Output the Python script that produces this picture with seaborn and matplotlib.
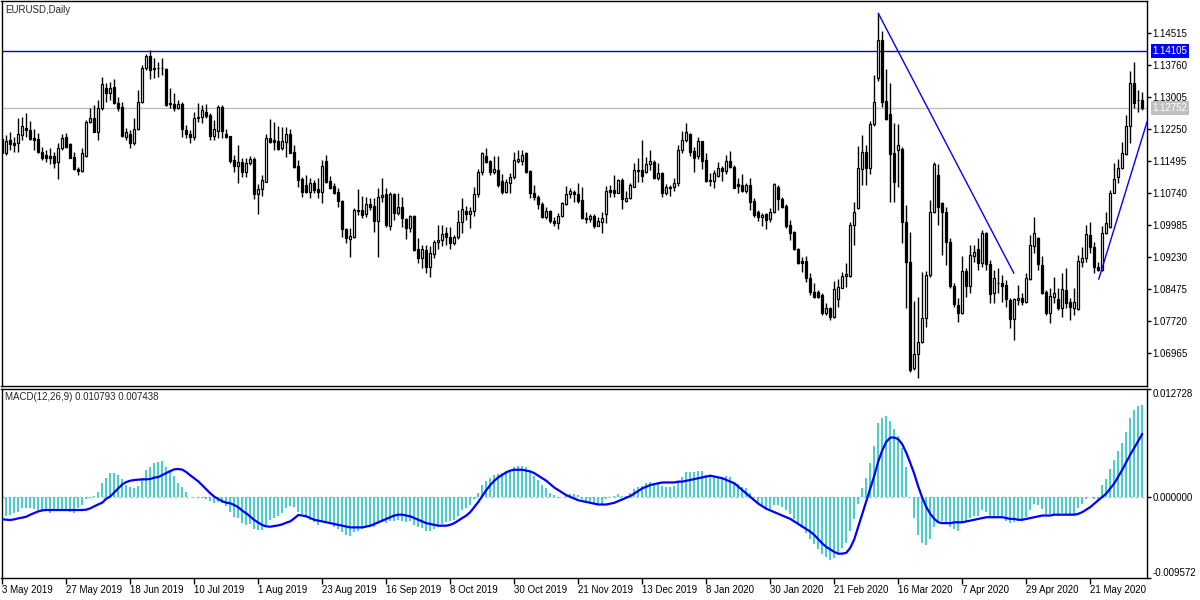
import numpy as np
import matplotlib
matplotlib.use("Agg")
import matplotlib.pyplot as plt
import seaborn as sns

# EURUSD daily bars, 3 May 2019 .. early June 2020
DATE_LABELS = ["3 May 2019", "27 May 2019", "18 Jun 2019", "10 Jul 2019", "1 Aug 2019",
               "23 Aug 2019", "16 Sep 2019", "8 Oct 2019", "30 Oct 2019", "21 Nov 2019",
               "13 Dec 2019", "8 Jan 2020", "30 Jan 2020", "21 Feb 2020", "16 Mar 2020",
               "7 Apr 2020", "29 Apr 2020", "21 May 2020"]
LABEL_STEP = 16

OPEN = [
    1.1202, 1.1169, 1.1200, 1.1192, 1.1192, 1.1211, 1.1228, 1.1223, 1.1204, 1.1202,
    1.1171, 1.1164, 1.1162, 1.1162, 1.1148, 1.1181, 1.1207, 1.1190, 1.1159, 1.1131,
    1.1126, 1.1162, 1.1242, 1.1251, 1.1218, 1.1275, 1.1322, 1.1311, 1.1325, 1.1287,
    1.1277, 1.1207, 1.1214, 1.1192, 1.1226, 1.1289, 1.1370, 1.1398, 1.1370, 1.1370,
    1.1370, 1.1367, 1.1287, 1.1285, 1.1275, 1.1285, 1.1223, 1.1214, 1.1207, 1.1251,
    1.1254, 1.1266, 1.1259, 1.1209, 1.1221, 1.1277, 1.1214, 1.1209, 1.1152, 1.1138,
    1.1148, 1.1124, 1.1145, 1.1155, 1.1072, 1.1084, 1.1100, 1.1204, 1.1200, 1.1197,
    1.1181, 1.1195, 1.1214, 1.1171, 1.1138, 1.1108, 1.1093, 1.1077, 1.1098, 1.1084,
    1.1077, 1.1150, 1.1103, 1.1091, 1.1077, 1.1056, 1.0990, 1.0966, 1.0971, 1.1034,
    1.1034, 1.1025, 1.1049, 1.1044, 1.1008, 1.1065, 1.1072, 1.0997, 1.1072, 1.1027,
    1.1041, 1.1013, 1.0992, 1.1020, 1.0942, 1.0921, 1.0940, 1.0900, 1.0931, 1.0959,
    1.0964, 1.0980, 1.0971, 1.0957, 1.0971, 1.1006, 1.1032, 1.1025, 1.1032, 1.1072,
    1.1124, 1.1162, 1.1150, 1.1124, 1.1129, 1.1103, 1.1077, 1.1098, 1.1112, 1.1150,
    1.1150, 1.1169, 1.1126, 1.1074, 1.1065, 1.1049, 1.1018, 1.1032, 1.1008, 1.1004,
    1.1020, 1.1049, 1.1072, 1.1077, 1.1072, 1.1058, 1.1016, 1.1013, 1.1020, 1.0997,
    1.1006, 1.1025, 1.1082, 1.1082, 1.1074, 1.1105, 1.1056, 1.1063, 1.1089, 1.1126,
    1.1129, 1.1124, 1.1143, 1.1148, 1.1110, 1.1122, 1.1074, 1.1086, 1.1089, 1.1098,
    1.1176, 1.1200, 1.1214, 1.1174, 1.1162, 1.1197, 1.1152, 1.1105, 1.1103, 1.1115,
    1.1133, 1.1126, 1.1150, 1.1136, 1.1096, 1.1093, 1.1079, 1.1093, 1.1056, 1.1030,
    1.1018, 1.1025, 1.1013, 1.1030, 1.1089, 1.1060, 1.1044, 1.0999, 1.0983, 1.0942,
    1.0914, 1.0914, 1.0874, 1.0841, 1.0841, 1.0834, 1.0791, 1.0803, 1.0782, 1.0824,
    1.0850, 1.0879, 1.0879, 1.0999, 1.1039, 1.1131, 1.1171, 1.1133, 1.1237, 1.1346,
    1.1436, 1.1292, 1.1261, 1.1169, 1.1176, 1.1178, 1.1006, 1.0912, 1.0662, 1.0695,
    1.0723, 1.0780, 1.0881, 1.1030, 1.1117, 1.1051, 1.1030, 1.0959, 1.0855, 1.0810,
    1.0791, 1.0890, 1.0855, 1.0926, 1.0942, 1.0909, 1.0980, 1.0907, 1.0838, 1.0862,
    1.0862, 1.0857, 1.0822, 1.0777, 1.0822, 1.0827, 1.0817, 1.0872, 1.0949, 1.0968,
    1.0905, 1.0841, 1.0791, 1.0829, 1.0824, 1.0803, 1.0846, 1.0817, 1.0803, 1.0801,
    1.0912, 1.0921, 1.0975, 1.0947, 1.0900, 1.0893, 1.0980, 1.0994, 1.1074, 1.1112,
    1.1133, 1.1167, 1.1233, 1.1334, 1.1294, 1.1294]

HIGH = [
    1.1204, 1.1211, 1.1218, 1.1207, 1.1251, 1.1254, 1.1263, 1.1244, 1.1226, 1.1216,
    1.1183, 1.1176, 1.1181, 1.1171, 1.1192, 1.1214, 1.1216, 1.1192, 1.1171, 1.1136,
    1.1181, 1.1247, 1.1275, 1.1282, 1.1294, 1.1348, 1.1334, 1.1337, 1.1344, 1.1301,
    1.1289, 1.1228, 1.1223, 1.1251, 1.1318, 1.1377, 1.1403, 1.1412, 1.1393, 1.1384,
    1.1393, 1.1370, 1.1322, 1.1311, 1.1294, 1.1289, 1.1235, 1.1223, 1.1266, 1.1287,
    1.1282, 1.1285, 1.1263, 1.1247, 1.1282, 1.1282, 1.1226, 1.1209, 1.1164, 1.1188,
    1.1157, 1.1157, 1.1162, 1.1159, 1.1096, 1.1117, 1.1214, 1.1249, 1.1242, 1.1233,
    1.1230, 1.1230, 1.1226, 1.1188, 1.1152, 1.1112, 1.1117, 1.1110, 1.1105, 1.1110,
    1.1152, 1.1164, 1.1115, 1.1098, 1.1086, 1.1058, 1.0992, 1.0992, 1.1039, 1.1084,
    1.1067, 1.1065, 1.1063, 1.1063, 1.1086, 1.1110, 1.1086, 1.1077, 1.1074, 1.1074,
    1.1065, 1.1016, 1.1023, 1.1023, 1.0968, 1.0952, 1.0952, 1.0949, 1.0964, 1.0999,
    1.0999, 1.0994, 1.0994, 1.0975, 1.1034, 1.1063, 1.1044, 1.1041, 1.1089, 1.1131,
    1.1171, 1.1181, 1.1152, 1.1162, 1.1162, 1.1119, 1.1108, 1.1122, 1.1171, 1.1176,
    1.1176, 1.1171, 1.1129, 1.1093, 1.1070, 1.1053, 1.1041, 1.1034, 1.1018, 1.1027,
    1.1053, 1.1091, 1.1086, 1.1082, 1.1098, 1.1089, 1.1030, 1.1025, 1.1025, 1.1018,
    1.1030, 1.1091, 1.1093, 1.1117, 1.1108, 1.1110, 1.1079, 1.1098, 1.1145, 1.1157,
    1.1200, 1.1159, 1.1176, 1.1152, 1.1145, 1.1124, 1.1096, 1.1093, 1.1110, 1.1188,
    1.1221, 1.1240, 1.1216, 1.1183, 1.1207, 1.1197, 1.1169, 1.1122, 1.1129, 1.1148,
    1.1138, 1.1164, 1.1174, 1.1141, 1.1110, 1.1119, 1.1098, 1.1110, 1.1063, 1.1034,
    1.1027, 1.1027, 1.1039, 1.1098, 1.1093, 1.1065, 1.1049, 1.1011, 1.0985, 1.0945,
    1.0923, 1.0926, 1.0886, 1.0862, 1.0846, 1.0838, 1.0815, 1.0805, 1.0867, 1.0872,
    1.0888, 1.0909, 1.1006, 1.1053, 1.1185, 1.1211, 1.1188, 1.1244, 1.1353, 1.1499,
    1.1457, 1.1367, 1.1334, 1.1240, 1.1237, 1.1183, 1.1046, 1.0983, 1.0820, 1.0829,
    1.0888, 1.0890, 1.1058, 1.1148, 1.1143, 1.1053, 1.1041, 1.0968, 1.0862, 1.0827,
    1.0926, 1.0897, 1.0952, 1.0952, 1.0968, 1.0987, 1.0983, 1.0916, 1.0893, 1.0897,
    1.0881, 1.0869, 1.0827, 1.0827, 1.0857, 1.0838, 1.0886, 1.0975, 1.1018, 1.0971,
    1.0926, 1.0846, 1.0850, 1.0876, 1.0850, 1.0886, 1.0897, 1.0827, 1.0850, 1.0928,
    1.0947, 1.0999, 1.1006, 1.0959, 1.0912, 1.0997, 1.1030, 1.1082, 1.1145, 1.1155,
    1.1195, 1.1259, 1.1362, 1.1384, 1.1318, 1.1313]

LOW = [
    1.1169, 1.1164, 1.1176, 1.1171, 1.1171, 1.1200, 1.1207, 1.1200, 1.1176, 1.1169,
    1.1152, 1.1148, 1.1143, 1.1133, 1.1108, 1.1176, 1.1181, 1.1157, 1.1129, 1.1117,
    1.1124, 1.1159, 1.1240, 1.1218, 1.1200, 1.1270, 1.1289, 1.1294, 1.1285, 1.1268,
    1.1207, 1.1200, 1.1181, 1.1188, 1.1223, 1.1287, 1.1365, 1.1344, 1.1346, 1.1348,
    1.1353, 1.1280, 1.1275, 1.1268, 1.1273, 1.1207, 1.1204, 1.1192, 1.1200, 1.1242,
    1.1240, 1.1251, 1.1200, 1.1200, 1.1204, 1.1204, 1.1204, 1.1145, 1.1124, 1.1098,
    1.1112, 1.1112, 1.1141, 1.1060, 1.1025, 1.1067, 1.1100, 1.1192, 1.1176, 1.1176,
    1.1176, 1.1159, 1.1169, 1.1133, 1.1089, 1.1065, 1.1074, 1.1063, 1.1074, 1.1063,
    1.1051, 1.1098, 1.1084, 1.1072, 1.1041, 1.0971, 1.0957, 1.0923, 1.0968, 1.1023,
    1.1016, 1.1018, 1.1034, 1.0983, 1.0923, 1.1053, 1.0994, 1.0987, 1.1011, 1.1023,
    1.0994, 1.0966, 1.0983, 1.0938, 1.0909, 1.0897, 1.0886, 1.0876, 1.0921, 1.0942,
    1.0949, 1.0952, 1.0942, 1.0952, 1.0966, 1.0980, 1.1011, 1.0992, 1.1020, 1.1065,
    1.1117, 1.1145, 1.1117, 1.1119, 1.1089, 1.1072, 1.1074, 1.1074, 1.1108, 1.1145,
    1.1141, 1.1122, 1.1063, 1.1058, 1.1037, 1.1016, 1.1013, 1.1004, 1.0997, 1.0990,
    1.1018, 1.1046, 1.1063, 1.1053, 1.1051, 1.1013, 1.1004, 1.1006, 1.0992, 1.0997,
    1.0980, 1.1004, 1.1065, 1.1065, 1.1074, 1.1037, 1.1053, 1.1060, 1.1089, 1.1100,
    1.1100, 1.1122, 1.1129, 1.1108, 1.1105, 1.1065, 1.1070, 1.1067, 1.1079, 1.1091,
    1.1169, 1.1195, 1.1162, 1.1124, 1.1155, 1.1131, 1.1100, 1.1091, 1.1086, 1.1112,
    1.1103, 1.1119, 1.1133, 1.1086, 1.1074, 1.1077, 1.1074, 1.1034, 1.1018, 1.1008,
    1.0997, 1.0990, 1.1006, 1.1027, 1.1034, 1.1039, 1.0992, 1.0964, 1.0940, 1.0907,
    1.0888, 1.0864, 1.0834, 1.0827, 1.0827, 1.0787, 1.0787, 1.0775, 1.0780, 1.0805,
    1.0850, 1.0853, 1.0876, 1.0952, 1.1037, 1.1093, 1.1093, 1.1119, 1.1233, 1.1339,
    1.1277, 1.1247, 1.1053, 1.1053, 1.1089, 1.0957, 1.0803, 1.0652, 1.0657, 1.0638,
    1.0721, 1.0758, 1.0876, 1.1027, 1.0999, 1.0928, 1.0905, 1.0850, 1.0805, 1.0770,
    1.0789, 1.0829, 1.0838, 1.0912, 1.0893, 1.0900, 1.0893, 1.0815, 1.0815, 1.0838,
    1.0817, 1.0805, 1.0756, 1.0728, 1.0810, 1.0810, 1.0815, 1.0869, 1.0933, 1.0893,
    1.0836, 1.0787, 1.0768, 1.0815, 1.0798, 1.0782, 1.0803, 1.0775, 1.0787, 1.0798,
    1.0900, 1.0912, 1.0933, 1.0886, 1.0890, 1.0890, 1.0978, 1.0992, 1.1074, 1.1098,
    1.1131, 1.1164, 1.1192, 1.1275, 1.1266, 1.1270]

CLOSE = [
    1.1169, 1.1197, 1.1190, 1.1188, 1.1214, 1.1233, 1.1223, 1.1202, 1.1200, 1.1171,
    1.1157, 1.1157, 1.1157, 1.1145, 1.1181, 1.1204, 1.1183, 1.1157, 1.1131, 1.1126,
    1.1169, 1.1242, 1.1251, 1.1218, 1.1275, 1.1332, 1.1311, 1.1322, 1.1287, 1.1275,
    1.1209, 1.1218, 1.1192, 1.1226, 1.1289, 1.1370, 1.1398, 1.1365, 1.1367, 1.1370,
    1.1370, 1.1282, 1.1285, 1.1275, 1.1285, 1.1226, 1.1214, 1.1207, 1.1251, 1.1254,
    1.1270, 1.1256, 1.1209, 1.1226, 1.1277, 1.1221, 1.1207, 1.1150, 1.1138, 1.1148,
    1.1124, 1.1145, 1.1155, 1.1072, 1.1084, 1.1105, 1.1204, 1.1195, 1.1195, 1.1178,
    1.1197, 1.1214, 1.1169, 1.1136, 1.1105, 1.1077, 1.1077, 1.1098, 1.1082, 1.1077,
    1.1138, 1.1100, 1.1086, 1.1074, 1.1056, 1.0990, 1.0968, 1.0973, 1.1034, 1.1032,
    1.1023, 1.1049, 1.1041, 1.1008, 1.1065, 1.1070, 1.0999, 1.1072, 1.1027, 1.1041,
    1.1016, 1.0992, 1.1020, 1.0940, 1.0921, 1.0942, 1.0900, 1.0933, 1.0959, 1.0964,
    1.0978, 1.0971, 1.0957, 1.0971, 1.1006, 1.1037, 1.1025, 1.1032, 1.1072, 1.1124,
    1.1169, 1.1148, 1.1124, 1.1131, 1.1093, 1.1077, 1.1100, 1.1112, 1.1152, 1.1155,
    1.1164, 1.1124, 1.1074, 1.1065, 1.1049, 1.1018, 1.1032, 1.1008, 1.1004, 1.1020,
    1.1051, 1.1072, 1.1079, 1.1072, 1.1056, 1.1016, 1.1013, 1.1020, 1.0997, 1.1008,
    1.1016, 1.1079, 1.1077, 1.1074, 1.1105, 1.1060, 1.1063, 1.1093, 1.1129, 1.1129,
    1.1115, 1.1143, 1.1150, 1.1110, 1.1122, 1.1074, 1.1089, 1.1089, 1.1098, 1.1176,
    1.1200, 1.1218, 1.1171, 1.1157, 1.1197, 1.1150, 1.1103, 1.1103, 1.1122, 1.1133,
    1.1126, 1.1150, 1.1136, 1.1086, 1.1091, 1.1079, 1.1093, 1.1053, 1.1023, 1.1018,
    1.1023, 1.1011, 1.1030, 1.1096, 1.1060, 1.1041, 1.0997, 1.0980, 1.0942, 1.0909,
    1.0909, 1.0874, 1.0841, 1.0829, 1.0829, 1.0791, 1.0803, 1.0782, 1.0848, 1.0853,
    1.0879, 1.0883, 1.0999, 1.1030, 1.1133, 1.1171, 1.1133, 1.1237, 1.1289, 1.1436,
    1.1289, 1.1249, 1.1167, 1.1100, 1.1188, 1.1006, 1.0912, 1.0657, 1.0695, 1.0723,
    1.0780, 1.0881, 1.1030, 1.1143, 1.1041, 1.1030, 1.0959, 1.0855, 1.0813, 1.0791,
    1.0890, 1.0855, 1.0928, 1.0935, 1.0909, 1.0980, 1.0907, 1.0836, 1.0874, 1.0862,
    1.0855, 1.0824, 1.0777, 1.0824, 1.0827, 1.0817, 1.0874, 1.0952, 1.0980, 1.0907,
    1.0838, 1.0791, 1.0831, 1.0838, 1.0803, 1.0848, 1.0815, 1.0805, 1.0817, 1.0914,
    1.0921, 1.0978, 1.0947, 1.0900, 1.0893, 1.0980, 1.1004, 1.1074, 1.1108, 1.1133,
    1.1169, 1.1233, 1.1334, 1.1287, 1.1294, 1.1275]

# MACD(12,26,9): main shown as histogram, signal as line
MACD_MAIN = [
    -0.00234, -0.00222, -0.00214, -0.00194, -0.00175, -0.00135, -0.00127, -0.00127, -0.00147, -0.00155,
    -0.00163, -0.00167, -0.00186, -0.00163, -0.00155, -0.00155, -0.00163, -0.00175, -0.00186, -0.00135,
    -0.00096, -0.00029, -0.00010, 0.00010, 0.00061, 0.00160, 0.00219, 0.00278, 0.00278, 0.00258,
    0.00211, 0.00140, 0.00113, 0.00101, 0.00128, 0.00219, 0.00317, 0.00349, 0.00396, 0.00408,
    0.00423, 0.00356, 0.00297, 0.00246, 0.00160, 0.00120, 0.00061, 0.00002, -0.00005, -0.00017,
    -0.00017, -0.00021, -0.00045, -0.00068, -0.00057, -0.00076, -0.00108, -0.00175, -0.00234, -0.00253,
    -0.00304, -0.00332, -0.00320, -0.00383, -0.00391, -0.00391, -0.00352, -0.00273, -0.00253, -0.00226,
    -0.00186, -0.00127, -0.00108, -0.00116, -0.00175, -0.0020, -0.0024, -0.0027, -0.0030, -0.0033,
    -0.0030, -0.0030, -0.0032, -0.0035, -0.0038, -0.0042, -0.0045, -0.0046, -0.0042, -0.0040,
    -0.0038, -0.0036, -0.0035, -0.0036, -0.0032, -0.0030, -0.0031, -0.0028, -0.0028, -0.0027,
    -0.0028, -0.0030, -0.0029, -0.0033, -0.0036, -0.0037, -0.0040, -0.0040, -0.0038, -0.0035,
    -0.0032, -0.0030, -0.0029, -0.0027, -0.0022, -0.0016, -0.0013, -0.0009, -0.0003, 0.0005,
    0.0014, 0.0019, 0.0022, 0.0026, 0.0027, 0.0028, 0.0030, 0.0032, 0.0035, 0.0036,
    0.0037, 0.0035, 0.0030, 0.0025, 0.0020, 0.0014, 0.0010, 0.0005, 0.0002, -0.0001,
    0.0000, 0.0002, 0.0003, 0.0003, 0.0002, -0.0002, -0.0005, -0.0006, -0.0008, -0.0009,
    -0.0008, -0.0003, 0.0000, 0.0001, 0.0003, 0.0001, 0.0001, 0.0004, 0.0009, 0.0012,
    0.0013, 0.0016, 0.0018, 0.0016, 0.0017, 0.0013, 0.0012, 0.0012, 0.0013, 0.0018,
    0.0024, 0.0029, 0.0029, 0.0029, 0.0031, 0.0030, 0.0026, 0.0024, 0.0023, 0.0024,
    0.0023, 0.0025, 0.0024, 0.0018, 0.0015, 0.0012, 0.0010, 0.0005, -0.0001, -0.0006,
    -0.0009, -0.0013, -0.0014, -0.0010, -0.0010, -0.0012, -0.0016, -0.0020, -0.0026, -0.0032,
    -0.0037, -0.0043, -0.0050, -0.0056, -0.0061, -0.0067, -0.0071, -0.0075, -0.0072, -0.0067,
    -0.0060, -0.0054, -0.0040, -0.0026, -0.0008, 0.0010, 0.0022, 0.0040, 0.0060, 0.0087,
    0.0093, 0.0095, 0.0090, 0.0080, 0.0072, 0.0058, 0.0035, 0.0000, -0.0025, -0.0045,
    -0.0055, -0.0057, -0.0050, -0.0035, -0.0030, -0.0028, -0.0030, -0.0035, -0.0038, -0.0040,
    -0.0030, -0.0030, -0.0025, -0.0022, -0.0022, -0.0016, -0.0018, -0.0024, -0.0024, -0.0024,
    -0.0025, -0.0028, -0.0031, -0.0030, -0.0028, -0.0028, -0.0024, -0.0016, -0.0008, -0.0009,
    -0.0014, -0.0020, -0.0020, -0.0020, -0.0022, -0.0019, -0.0020, -0.0022, -0.0021, -0.0013,
    -0.0008, -0.0002, 0.0000, -0.0002, -0.0004, 0.00138, 0.00209, 0.00327, 0.00433, 0.00543,
    0.00637, 0.00760, 0.00925, 0.01023, 0.01070, 0.010793]

MACD_SIGNAL = [
    -0.00265, -0.00269, -0.00273, -0.00265, -0.00253, -0.00245, -0.00234, -0.00210, -0.00190, -0.00171,
    -0.00159, -0.00155, -0.00155, -0.00155, -0.00155, -0.00155, -0.00155, -0.00155, -0.00155, -0.00155,
    -0.00155, -0.00151, -0.00135, -0.00112, -0.00088, -0.00068, -0.00021, 0.00006, 0.00053, 0.00101,
    0.00148, 0.00175, 0.00191, 0.00199, 0.00203, 0.00207, 0.00207, 0.00211, 0.00227, 0.00234,
    0.00258, 0.00282, 0.00305, 0.00325, 0.00329, 0.00321, 0.00293, 0.00254, 0.00219, 0.00183,
    0.00136, 0.00089, 0.00042, 0.00002, -0.00025, -0.00053, -0.00068, -0.00076, -0.00096, -0.00123,
    -0.00163, -0.00194, -0.00234, -0.00273, -0.00304, -0.00332, -0.00348, -0.00352, -0.00344, -0.00336,
    -0.00324, -0.00304, -0.00289, -0.00253, -0.00214, -0.0022, -0.0023, -0.0025, -0.0027, -0.0028,
    -0.0029, -0.0030, -0.0031, -0.0032, -0.0033, -0.0034, -0.0035, -0.0036, -0.0036, -0.0036,
    -0.0036, -0.0035, -0.0034, -0.0032, -0.0030, -0.0028, -0.0026, -0.0024, -0.0022, -0.0021,
    -0.0021, -0.0022, -0.0023, -0.0025, -0.0027, -0.0029, -0.0031, -0.0032, -0.0033, -0.0034,
    -0.0034, -0.0034, -0.0033, -0.0031, -0.0028, -0.0025, -0.0022, -0.0018, -0.0012, -0.0006,
    0.0001, 0.0008, 0.0014, 0.0019, 0.0023, 0.0026, 0.0029, 0.0031, 0.0032, 0.0032,
    0.0032, 0.0031, 0.0030, 0.0028, 0.0025, 0.0022, 0.0019, 0.0015, 0.0011, 0.0008,
    0.0005, 0.0002, 0.0000, -0.0002, -0.0004, -0.0005, -0.0006, -0.0007, -0.0008, -0.0009,
    -0.0009, -0.0009, -0.0008, -0.0007, -0.0005, -0.0003, -0.0001, 0.0001, 0.0004, 0.0007,
    0.0010, 0.0012, 0.0014, 0.0015, 0.0016, 0.0017, 0.0017, 0.0017, 0.0017, 0.0018,
    0.0018, 0.0019, 0.0020, 0.0021, 0.0022, 0.0023, 0.0024, 0.0025, 0.0024, 0.0023,
    0.0022, 0.0020, 0.0018, 0.0016, 0.0012, 0.0008, 0.0004, 0.0000, -0.0004, -0.0008,
    -0.0011, -0.0014, -0.0016, -0.0018, -0.0020, -0.0022, -0.0024, -0.0026, -0.0029, -0.0032,
    -0.0035, -0.0038, -0.0041, -0.0045, -0.0050, -0.0055, -0.0059, -0.0062, -0.0065, -0.0067,
    -0.0067, -0.0066, -0.0060, -0.0050, -0.0035, -0.0020, -0.0005, 0.0010, 0.0025, 0.0042,
    0.0055, 0.0065, 0.0070, 0.0070, 0.0068, 0.0062, 0.0052, 0.0040, 0.0027, 0.0012,
    -0.0001, -0.0012, -0.0020, -0.0026, -0.0030, -0.0031, -0.0031, -0.0031, -0.0030, -0.0030,
    -0.0030, -0.0029, -0.0028, -0.0027, -0.0026, -0.0025, -0.0024, -0.0024, -0.0024, -0.0024,
    -0.0024, -0.0025, -0.0026, -0.0026, -0.0027, -0.0027, -0.0026, -0.0025, -0.0024, -0.0023,
    -0.0022, -0.0022, -0.0022, -0.0021, -0.0021, -0.0021, -0.0021, -0.0021, -0.0021, -0.0020,
    -0.0018, -0.0015, -0.0012, -0.0008, -0.0004, 0.0000, 0.0004, 0.0010, 0.0016, 0.0024,
    0.0032, 0.0041, 0.0050, 0.0058, 0.0066, 0.007438]

PRICE_TICKS = [1.06965, 1.07720, 1.08475, 1.09230, 1.09985, 1.10740,
               1.11495, 1.12250, 1.13005, 1.13760, 1.14515]
PRICE_RANGE = (1.06190, 1.15276)
MACD_TICKS = [0.012728, 0.0, -0.009572]
MACD_RANGE = (-0.009572, 0.012728)

LEVEL_PRICE = 1.14105   # blue horizontal line
BID_PRICE = 1.12752     # current bid line
TREND1_BARS = [219, 252.9]
TREND1_PRICES = [1.14986, 1.08850]
TREND2_BARS = [274.1, 286.2]
TREND2_PRICES = [1.08709, 1.12428]

bars = np.arange(len(CLOSE))
o = np.array(OPEN)
c = np.array(CLOSE)

sns.set_theme(style="white")
plt.rcParams["font.family"] = ["Liberation Sans", "DejaVu Sans"]
FS = 7

W, H = 1200, 600
fig = plt.figure(figsize=(12, 6), dpi=100)
fig.patch.set_facecolor("white")
ax = fig.add_axes([1.5 / W, 1 - 386 / H, 1145 / W, 385 / H])
ax2 = fig.add_axes([1.5 / W, 1 - 578 / H, 1145 / W, 189 / H])

# ---- price panel ----
ax.axhline(LEVEL_PRICE, color="#0000CC", lw=1, zorder=1)
ax.axhline(BID_PRICE, color="#C0C0C0", lw=1, zorder=1)
ax.vlines(bars, LOW, HIGH, color="black", lw=1, zorder=2)
ax.bar(bars, np.abs(c - o), bottom=np.minimum(o, c), width=0.55,
       color=np.where(c >= o, "white", "black"), edgecolor="black",
       linewidth=0.9, zorder=3)
ax.plot(TREND1_BARS, TREND1_PRICES, color="#0000FF", lw=1, zorder=4)
ax.plot(TREND2_BARS, TREND2_PRICES, color="#0000FF", lw=1, zorder=4)

ax.set_xlim(-0.2, 286.05)
ax.set_ylim(*PRICE_RANGE)
ax.set_xticks([])
ax.yaxis.tick_right()
ax.set_yticks(PRICE_TICKS)
ax.set_yticklabels([f"{v:.5f}" for v in PRICE_TICKS])
ax.tick_params(axis="y", right=True, length=3, width=1, direction="out",
               labelsize=FS, pad=1.5, colors="black")

for price, face in [(LEVEL_PRICE, "#0000FF"), (BID_PRICE, "#C0C0C0")]:
    ax.annotate(f"{price:.5f}", xy=(1, price), xycoords=("axes fraction", "data"),
                xytext=(6, 0), textcoords="offset pixels", ha="left", va="center",
                fontsize=FS, color="white", annotation_clip=False,
                bbox=dict(boxstyle="square,pad=0.2", fc=face, ec="none"))

# ---- MACD panel ----
ax2.axhline(0, color="#C0C0C0", lw=1, ls=(0, (2, 2)), zorder=0)
sns.barplot(x=bars, y=MACD_MAIN, native_scale=True, width=0.5, color="#48D1CC",
            saturation=1, linewidth=0, errorbar=None, ax=ax2, zorder=2)
sns.lineplot(x=bars, y=MACD_SIGNAL, color="#0000FF", lw=1.6, ax=ax2, zorder=3)

ax2.set_xlim(-0.2, 286.05)
ax2.set_ylim(*MACD_RANGE)
ax2.set_xlabel("")
ax2.set_ylabel("")
ax2.yaxis.tick_right()
ax2.set_yticks(MACD_TICKS)
ax2.set_yticklabels([f"{v:.6f}" for v in MACD_TICKS])
ax2.tick_params(axis="y", right=True, length=3, width=1, direction="out",
                labelsize=FS, pad=1.5, colors="black")
ylabs = ax2.get_yticklabels()
ylabs[0].set_va("top")
ylabs[2].set_va("bottom")

tick_pos = bars[::LABEL_STEP][:len(DATE_LABELS)]
ax2.set_xticks(tick_pos)
ax2.set_xticklabels(DATE_LABELS, ha="left")
ax2.tick_params(axis="x", bottom=True, length=4, width=1, direction="out",
                labelsize=FS, pad=1, colors="black")

for a in (ax, ax2):
    a.set_facecolor("white")
    for s in a.spines.values():
        s.set_visible(True)
        s.set_color("black")
        s.set_linewidth(1)

fig.text(5 / W, 1 - 10 / H, "EURUSD,Daily", fontsize=FS, ha="left", va="center")
fig.text(5 / W, 1 - 397 / H, "MACD(12,26,9) 0.010793 0.007438", fontsize=FS,
         ha="left", va="center")

fig.savefig("out.png", dpi=100)
